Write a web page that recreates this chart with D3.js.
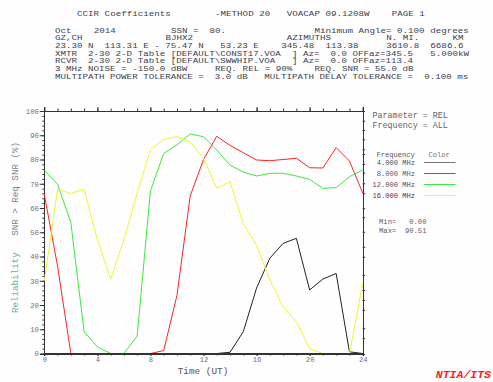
<!DOCTYPE html>
<html>
<head>
<meta charset="utf-8">
<script src="https://cdn.jsdelivr.net/npm/d3@7"></script>
<style>
  body { margin: 0; background: #fefefe; }
  svg text { font-family: "Liberation Mono", "DejaVu Sans Mono", monospace; white-space: pre; }
</style>
</head>
<body>
<div id="chart"></div>
<script>
// data
const hours = d3.range(0, 25);
const freqLabels = ['4.000 MHz', '8.000 MHz', '12.000 MHz', '16.000 MHz'];
const rel4 = [0, 0, 0, 0, 0, 0, 0, 0, 0, 0, 0, 0, 0, 0, 0.5, 9, 27, 39.3, 45.4, 47.5, 26.2, 30.7, 33, 0.7, 0];
const rel8 = [65.6, 36, 0, 0, 0, 0, 0, 0, 0, 1.2, 24, 65, 80, 89.6, 85.8, 82.8, 79.8, 79.5, 80, 80.5, 76.6, 76.5, 84.9, 79.4, 66.2];
const rel12 = [75.7, 69.8, 54, 9, 2.7, 0, 0, 7.2, 67, 82.5, 86, 90.51, 89.4, 83.9, 77.7, 74.8, 73.2, 74.3, 74.3, 73.2, 71.8, 68.1, 68.4, 72.9, 75.7];
const rel16 = [30, 67.7, 66, 67.7, 47, 30.6, 47, 66, 84, 88.3, 89.4, 87.3, 80.5, 68.1, 70.9, 53.5, 44.7, 30.3, 19.3, 13.1, 2, 0, 0, 0, 29];
const yTicks = d3.range(0, 101, 10);
const xTicks = d3.range(0, 25, 4);
const rightTicks = [96, 92.2, 88.3, 84.2, 82.3, 78.2, 74.6, 70.2, 66.1, 59.9, 56.2, 50.2, 44, 39.9, 32.4, 26.2, 22.1, 18, 10.4, 6.3];

const headerLines = [
  [[4, 'CCIR Coefficients'], [29, '-METHOD 20'], [42, 'VOACAP 09.1208W'], [61, 'PAGE'], [66, '1']],
  [[0, 'Oct'], [7, '2014'], [21, 'SSN =  80.'], [47, 'Minimum Angle= 0.100 degrees']],
  [[0, 'GZ,CH'], [20, 'BJHX2'], [42, 'AZIMUTHS'], [60, 'N. MI.'], [72, 'KM']],
  [[0, '23.30 N  113.31 E - 75.47 N   53.23 E'], [41, '345.48'], [49, '113.38'], [60, '3610.8'], [68, '6686.6']],
  [[0, 'XMTR  2-30 2-D Table [DEFAULT\\CONST17.VOA  ] Az=  0.0 OFFaz=345.5'], [68, '5.000kW']],
  [[0, 'RCVR  2-30 2-D Table [DEFAULT\\SWWHIP.VOA   ] Az=  0.0 OFFaz=113.4']],
  [[0, '3 MHz NOISE = -150.0 dBW'], [29, 'REQ. REL = 90%'], [47, 'REQ. SNR = 55.0 dB']],
  [[0, 'MULTIPATH POWER TOLERANCE =  3.0 dB   MULTIPATH DELAY TOLERANCE =  0.100 ms']]
];

const width = 493;
const height = 382;
const colors = ['#222222', '#ff2424', '#3ee83e', '#f4f430'];

const svg = d3.select('#chart')
  .append('svg')
  .attr('width', width)
  .attr('height', height);

svg.append('rect')
  .attr('width', width)
  .attr('height', height)
  .attr('fill', '#fefefe');

// header block: narrow font stretched sideways to hit the 5.52px column pitch
const headerY = [16, 33, 40.5, 48, 56, 63.5, 71.5, 79.5];
const colW = 5.52;
const hScale = 1.21;
const header = svg.append('g').attr('transform', `scale(${hScale},1)`);
headerLines.forEach((line, i) => {
  line.forEach(([col, txt]) => {
    header.append('text')
      .attr('x', (55 + col * colW) / hScale)
      .attr('y', headerY[i])
      .attr('font-size', 7.6)
      .attr('fill', '#3e3e50')
      .text(txt);
  });
});

// scales
const x = d3.scaleLinear().domain([0, 24]).range([44.3, 362.7]);
const y = d3.scaleLinear().domain([0, 100]).range([353.5, 111]);

const axisColor = '#333';

// left axis
svg.append('g')
  .attr('transform', `translate(${x(0)},0)`)
  .call(d3.axisLeft(y).tickValues(d3.range(0, 101, 2)).tickSize(2).tickFormat(''));
const leftAxis = svg.append('g')
  .attr('transform', `translate(${x(0)},0)`)
  .call(d3.axisLeft(y).tickValues(yTicks).tickSize(4.5).tickPadding(1));
leftAxis.selectAll('text')
  .attr('font-size', 7.2)
  .attr('fill', '#707080');

// right axis
svg.append('g')
  .attr('transform', `translate(${x(24)},0)`)
  .call(d3.axisRight(y).tickValues(rightTicks).tickSize(2.5).tickFormat(''));

// top axis
svg.append('g')
  .attr('transform', `translate(0,${y(100)})`)
  .call(d3.axisTop(x).tickValues(hours).tickSize(2.5).tickFormat(''));
svg.append('g')
  .attr('transform', `translate(0,${y(100)})`)
  .call(d3.axisTop(x).tickValues(xTicks).tickSize(4).tickFormat(''));

// bottom axis
svg.append('g')
  .attr('transform', `translate(0,${y(0)})`)
  .call(d3.axisBottom(x).tickValues(hours).tickSize(2).tickFormat(''));
const bottomAxis = svg.append('g')
  .attr('transform', `translate(0,${y(0)})`)
  .call(d3.axisBottom(x).tickValues(xTicks).tickSize(2.5).tickPadding(0.5));
bottomAxis.selectAll('text')
  .attr('font-size', 7.2)
  .attr('fill', '#707080');

svg.selectAll('.domain, .tick line')
  .attr('stroke', axisColor)
  .attr('stroke-width', 1);
svg.selectAll('.domain').attr('shape-rendering', 'crispEdges');

// series
const line = d3.line()
  .x((d, i) => x(hours[i]))
  .y(d => y(d));

[rel4, rel8, rel12, rel16].forEach((s, k) => {
  svg.append('path')
    .datum(s)
    .attr('d', line)
    .attr('fill', 'none')
    .attr('stroke', colors[k])
    .attr('stroke-width', 1);
});

// bottom axis line on top of the zero runs
svg.append('line')
  .attr('x1', x(0)).attr('x2', x(24))
  .attr('y1', y(0)).attr('y2', y(0))
  .attr('stroke', axisColor)
  .attr('shape-rendering', 'crispEdges');

// axis titles
svg.append('text')
  .attr('x', 203)
  .attr('y', 373.5)
  .attr('text-anchor', 'middle')
  .attr('font-size', 9.4)
  .attr('fill', '#5e5252')
  .text('Time (UT)');

const yTitle = svg.append('text')
  .attr('transform', `translate(18,${(142 + 313) / 2}) rotate(-90)`)
  .attr('text-anchor', 'middle')
  .attr('font-size', 9.2);
yTitle.append('tspan').attr('fill', '#68b098').text('Reliability   ');
yTitle.append('tspan').attr('fill', '#80808e').text('SNR > Req SNR (%)');

// right side info
svg.append('text').attr('x', 372.5).attr('y', 118).attr('font-size', 8.4)
  .attr('fill', '#6e5e64').text('Parameter = REL');
svg.append('text').attr('x', 372.5).attr('y', 127.5).attr('font-size', 8.4)
  .attr('fill', '#6e5e64').text('Frequency = ALL');

// legend
svg.append('text').attr('x', 376.5).attr('y', 156.5).attr('font-size', 7.1)
  .attr('fill', '#605070').text('Frequency');
svg.append('text').attr('x', 428.5).attr('y', 156.5).attr('font-size', 7.1)
  .attr('fill', '#707078').text('Color');

const legendY = [165, 176, 187, 198];
const legendLabelColors = ['#505060', '#605a68', '#704058', '#603048'];
freqLabels.forEach((lab, i) => {
  svg.append('text')
    .attr('x', 415)
    .attr('y', legendY[i])
    .attr('text-anchor', 'end')
    .attr('font-size', 7.1)
    .attr('fill', legendLabelColors[i])
    .text(lab);
  svg.append('line')
    .attr('x1', 424).attr('x2', 455.5)
    .attr('y1', legendY[i] - 2.5).attr('y2', legendY[i] - 2.5)
    .attr('stroke', i === 0 ? '#777' : colors[i])
    .attr('stroke-width', 1);
});

const allVals = [rel4, rel8, rel12, rel16].flat();
svg.append('text').attr('x', 379).attr('y', 223.5).attr('font-size', 7.2)
  .attr('fill', '#606070').text('Min=   ' + d3.min(allVals).toFixed(2));
svg.append('text').attr('x', 379).attr('y', 232.5).attr('font-size', 7.2)
  .attr('fill', '#606070').text('Max=  ' + d3.max(allVals).toFixed(2));

// credit
svg.append('text')
  .attr('x', 491)
  .attr('y', 378)
  .attr('text-anchor', 'end')
  .attr('font-size', 11.5)
  .attr('font-weight', 'bold')
  .attr('font-style', 'italic')
  .attr('fill', '#ff2020')
  .text('NTIA/ITS');
</script>
</body>
</html>
